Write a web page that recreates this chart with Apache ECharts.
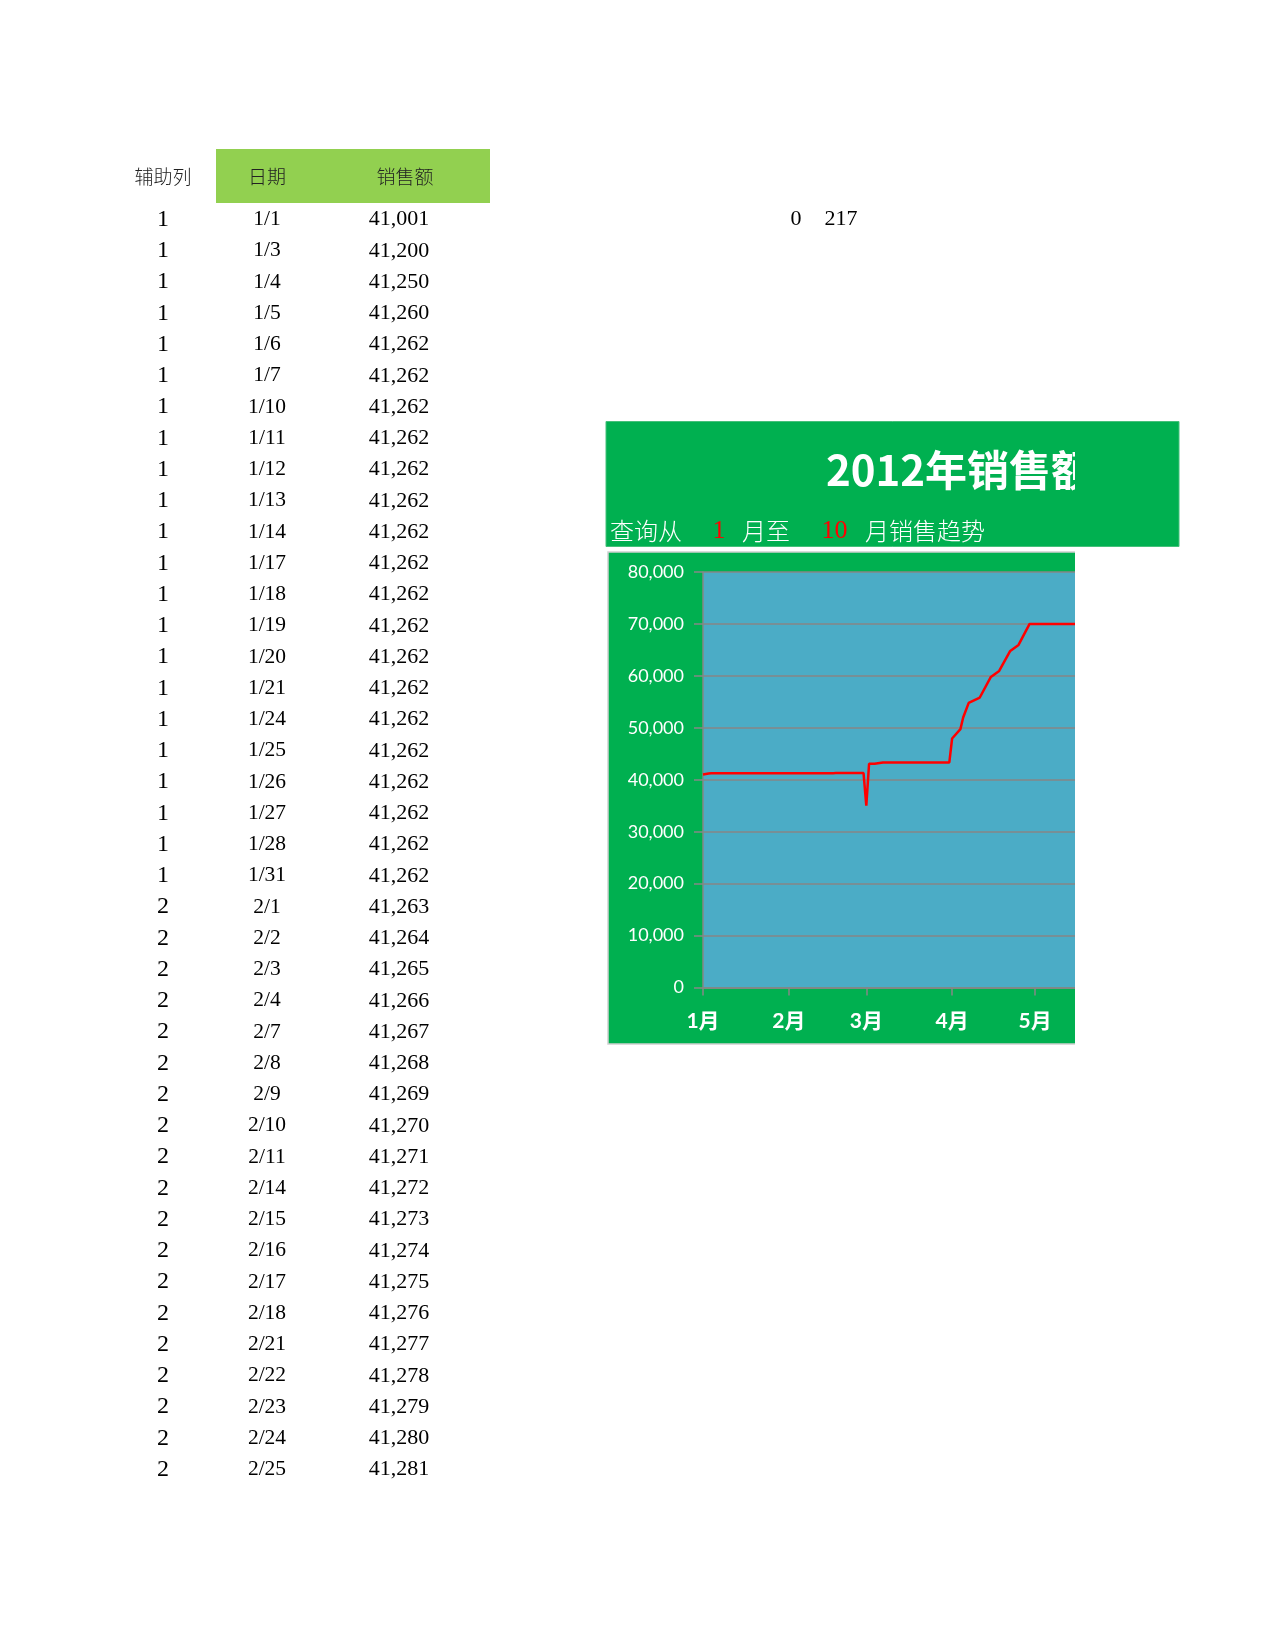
<!DOCTYPE html>
<html>
<head>
<meta charset="utf-8">
<script src="https://cdn.jsdelivr.net/npm/echarts@6.0.0/dist/echarts.min.js"></script>
<style>
  html, body { margin: 0; padding: 0; background: #ffffff; }
  #page { position: absolute; left: 0; top: 0; width: 1275px; height: 1650px; }
  #chart { position: absolute; left: 606px; top: 421px; width: 469px; height: 630px; }
</style>
</head>
<body>
<div id="page"></div>
<div id="chart"></div>
<script>
// ---------- data ----------
const tableHeaders = ['辅助列', '日期', '销售额'];
const helperCol = [1,1,1,1,1,1,1,1,1,1,1,1,1,1,1,1,1,1,1,1,1,1,
                   2,2,2,2,2,2,2,2,2,2,2,2,2,2,2,2,2,2,2];
const dates = [
  '1/1','1/3','1/4','1/5','1/6','1/7','1/10','1/11','1/12','1/13','1/14','1/17','1/18','1/19','1/20','1/21','1/24','1/25','1/26','1/27','1/28','1/31',
  '2/1','2/2','2/3','2/4','2/7','2/8','2/9','2/10','2/11','2/14','2/15','2/16','2/17','2/18','2/21','2/22','2/23','2/24','2/25','2/28',
  '3/1','3/2','3/3','3/4','3/7','3/8','3/9','3/10','3/11','3/14','3/15','3/16','3/17','3/18','3/21','3/22','3/23','3/24','3/25','3/28','3/29','3/30','3/31',
  '4/1','4/4','4/5','4/7','4/11','4/15','4/18','4/22','4/25','4/29',
  '5/2','5/3','5/4','5/5','5/6','5/9','5/10','5/11','5/12','5/13','5/16','5/17'
];
const sales = [
  41001,41200,41250,41260,41262,41262,41262,41262,41262,41262,41262,41262,41262,41262,41262,41262,41262,41262,41262,41262,41262,41262,
  41263,41264,41265,41266,41267,41268,41269,41270,41271,41272,41273,41274,41275,41276,41277,41278,41279,41280,41281,41282,
  35000,43080,43080,43080,43330,43330,43330,43330,43330,43330,43330,43330,43330,43330,43330,43330,43330,43330,43330,43330,43330,43330,43330,
  47940,49750,51980,54800,55830,59800,60960,64800,65960,70000,
  70000,70000,70000,70000,70000,70000,70000,70000,70000,70000,70000,70000
];
const tableRows = 41;
const sideNumbers = ['0', '217'];
const titleText = '2012年销售额';
const subtitleParts = ['查询从', '1', '月至', '10', '月销售趋势'];
const monthLabels = ['1月', '2月', '3月', '4月', '5月'];
const monthStartDays = [0, 31, 59, 90, 120];
const yTicks = { min: 0, max: 80000, interval: 10000 };

// ---------- helpers ----------
const monthLengths = [31,28,31,30,31,30,31,31,30,31,30,31];
function dayOfYear(s) {
  const p = s.split('/').map(Number);
  let n = 0;
  for (let i = 0; i < p[0] - 1; i++) n += monthLengths[i];
  return n + p[1] - 1;
}
const fmt = v => v.toLocaleString('en-US');

// ---------- page (table + banner) ----------
const page = echarts.init(document.getElementById('page'), null, { renderer: 'canvas' });
const serif = '"Liberation Serif", "DejaVu Serif", serif';
const cjk = '"Noto Sans CJK SC", "Noto Sans", sans-serif';
function txt(text, x, y, opts) {
  return {
    type: 'text', silent: true,
    style: Object.assign({
      text: text, x: x, y: y,
      fill: '#000', fontSize: 21, fontFamily: serif,
      align: 'center', verticalAlign: 'middle',
      textAlign: 'center', textVerticalAlign: 'middle'
    }, opts || {})
  };
}
const els = [];
els.push({ type: 'rect', silent: true, shape: { x: 216, y: 149, width: 274, height: 54 }, style: { fill: '#92D050' } });
els.push(txt(tableHeaders[0], 163, 177, { fontFamily: cjk, fontSize: 19, fill: '#222', fontWeight: 300 }));
els.push(txt(tableHeaders[1], 267, 177, { fontFamily: cjk, fontSize: 19, fill: '#222', fontWeight: 300 }));
els.push(txt(tableHeaders[2], 405, 177, { fontFamily: cjk, fontSize: 19, fill: '#222', fontWeight: 300 }));
for (let i = 0; i < tableRows; i++) {
  const y = 219.5 + i * 31.25;
  els.push(txt(String(helperCol[i]), 163, y, { fontSize: 24 }));
  els.push(txt(dates[i], 267, y, { fontSize: 21.5 }));
  els.push(txt(fmt(sales[i]), 399, y, { fontSize: 22 }));
}
els.push(txt(sideNumbers[0], 796, 219.5, { fontSize: 22 }));
els.push(txt(sideNumbers[1], 841, 219.5, { fontSize: 22 }));
els.push({ type: 'rect', silent: true, shape: { x: 606, y: 421.5, width: 573, height: 125 },
  style: { fill: '#00B050', stroke: '#45C07A', lineWidth: 1 } });
page.setOption({ backgroundColor: '#ffffff', animation: false, graphic: { elements: els } });

// ---------- chart (clipped at right edge) ----------
const chart = echarts.init(document.getElementById('chart'), null, { renderer: 'canvas' });
const lineData = dates.map((d, i) => [dayOfYear(d), sales[i]]);
const sub = [];
const subY = 110;
sub.push(txt(subtitleParts[0], 4, subY, { fontFamily: cjk, fontSize: 24, fill: '#fff', fontWeight: 300, align: 'left', textAlign: 'left' }));
sub.push(txt(subtitleParts[1], 113, subY, { fontFamily: serif, fontSize: 26, fill: '#FF0000' }));
sub.push(txt(subtitleParts[2], 136, subY, { fontFamily: cjk, fontSize: 24, fill: '#fff', fontWeight: 300, align: 'left', textAlign: 'left' }));
sub.push(txt(subtitleParts[3], 228.5, subY, { fontFamily: serif, fontSize: 26, fill: '#FF0000' }));
sub.push(txt(subtitleParts[4], 259, subY, { fontFamily: cjk, fontSize: 24, fill: '#fff', fontWeight: 300, align: 'left', textAlign: 'left' }));

chart.setOption({
  animation: false,
  graphic: {
    elements: [
      { type: 'rect', silent: true, z: -10, shape: { x: 2, y: 131, width: 480, height: 492 },
        style: { fill: '#00B050', stroke: '#D0D0D0', lineWidth: 1.5 } },
      txt(titleText, 220, 49, { fontFamily: cjk, fontSize: 42, fontWeight: 'bold', fill: '#fff', align: 'left', textAlign: 'left' })
    ].concat(sub)
  },
  grid: {
    left: 97, top: 151, right: 0, bottom: 63.5,
    show: true, backgroundColor: '#4BACC6', borderWidth: 0
  },
  xAxis: {
    type: 'value', min: 0, max: 134.4,
    splitLine: { show: false },
    axisLine: { show: true, lineStyle: { color: '#868686', width: 1.5 } },
    axisTick: { show: true, length: 8, inside: false, customValues: monthStartDays, lineStyle: { color: '#868686', width: 1.5 } },
    axisLabel: {
      customValues: monthStartDays, margin: 23,
      color: '#fff', fontSize: 21, fontWeight: 'bold', fontFamily: 'Lato, "Noto Sans CJK SC", sans-serif',
      formatter: v => monthLabels[monthStartDays.indexOf(Math.round(v))] || ''
    }
  },
  yAxis: {
    type: 'value', min: yTicks.min, max: yTicks.max, interval: yTicks.interval,
    axisLine: { show: true, lineStyle: { color: '#868686', width: 1.5 } },
    axisTick: { show: true, length: 9, inside: false, lineStyle: { color: '#868686', width: 1.5 } },
    splitLine: { show: true, lineStyle: { color: '#868686', width: 1.5 } },
    axisLabel: { color: '#fff', fontSize: 18, fontFamily: 'Lato, sans-serif', margin: 19,
      formatter: v => fmt(v) }
  },
  series: [{
    type: 'line', data: lineData, showSymbol: false, symbol: 'none', clip: true,
    lineStyle: { color: '#FF0000', width: 2.5 }
  }]
});
</script>
</body>
</html>
